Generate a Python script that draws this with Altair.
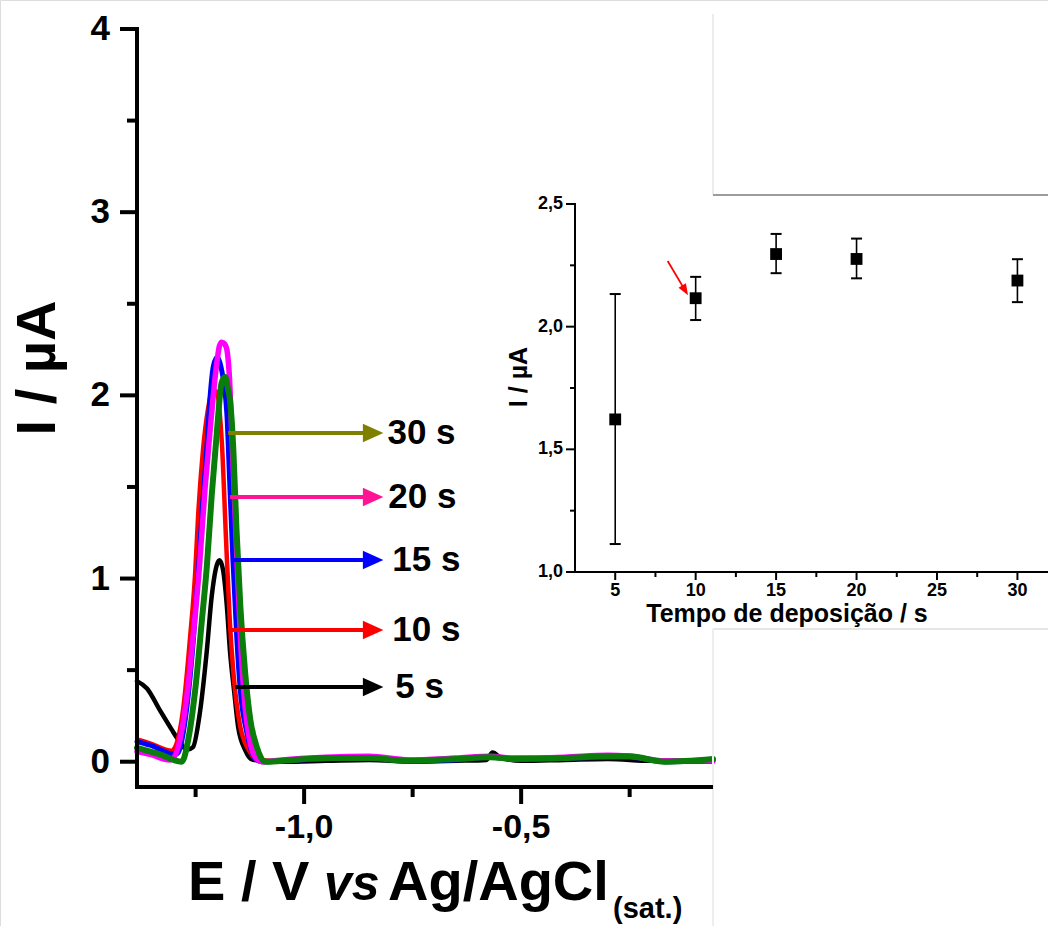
import altair as alt
import pandas as pd

FONT = "Liberation Sans"

# ---------------- main voltammograms: E / V  vs  I / uA ----------------
BASE_E = [-1.05, -0.95, -0.85, -0.76, -0.65, -0.57, -0.52, -0.4, -0.3, -0.25, -0.17, -0.058]

E_5 = [-1.385, -1.362, -1.332, -1.305, -1.290, -1.270, -1.256, -1.240, -1.224, -1.213,
       -1.201, -1.195, -1.187, -1.178, -1.171, -1.161, -1.152, -1.136, -1.118,
       -1.05, -0.95, -0.85, -0.75, -0.65, -0.58, -0.566, -0.545, -0.5, -0.4, -0.3, -0.2, -0.058]
I_5 = [0.44, 0.40, 0.28, 0.175, 0.12, 0.065, 0.08, 0.27, 0.61, 0.90,
       1.075, 1.10, 1.05, 0.85, 0.61, 0.38, 0.19, 0.065, 0.01,
       0.0, 0.005, 0.01, 0.0, 0.005, 0.01, 0.05, 0.02, 0.005, 0.01, 0.015, 0.005, 0.005]

E_10 = [-1.384, -1.355, -1.305, -1.297, -1.278, -1.263, -1.251, -1.244, -1.233, -1.221,
        -1.210, -1.202, -1.189, -1.180, -1.171, -1.163, -1.147, -1.124, -1.109] + BASE_E
I_10 = [0.12, 0.10, 0.06, 0.08, 0.30, 0.67, 1.03, 1.35, 1.70, 1.93,
        2.03, 2.02, 1.72, 1.22, 0.76, 0.49, 0.19, 0.05, 0.01] + \
       [0.005, 0.02, 0.025, 0.01, 0.015, 0.03, 0.02, 0.02, 0.03, 0.03, 0.0, 0.0]

E_15 = [-1.385, -1.355, -1.297, -1.290, -1.270, -1.255, -1.244, -1.234, -1.224, -1.217,
        -1.209, -1.200, -1.191, -1.178, -1.171, -1.164, -1.155, -1.147, -1.132, -1.113, -1.097] + BASE_E
I_15 = [0.11, 0.09, 0.04, 0.05, 0.30, 0.67, 1.03, 1.40, 1.72, 1.98,
        2.16, 2.21, 2.15, 1.90, 1.50, 1.10, 0.67, 0.39, 0.16, 0.02, 0.0] + \
       [0.005, 0.015, 0.02, 0.005, 0.01, 0.025, 0.015, 0.02, 0.025, 0.025, 0.0, 0.005]

E_20 = [-1.385, -1.355, -1.309, -1.301, -1.286, -1.270, -1.255, -1.241, -1.228, -1.217,
        -1.201, -1.195, -1.190, -1.183, -1.178, -1.171, -1.167, -1.159, -1.152, -1.145,
        -1.136, -1.124, -1.111, -1.097] + BASE_E
I_20 = [0.055, 0.04, 0.01, 0.02, 0.12, 0.36, 0.70, 1.07, 1.50, 1.80,
        2.18, 2.27, 2.29, 2.28, 2.25, 2.05, 1.81, 1.35, 0.95, 0.60,
        0.30, 0.10, 0.02, 0.0] + \
       [0.01, 0.025, 0.03, 0.01, 0.02, 0.03, 0.02, 0.025, 0.035, 0.03, 0.005, 0.005]

E_30 = [-1.385, -1.332, -1.282, -1.267, -1.251, -1.236, -1.224, -1.213, -1.201, -1.190,
        -1.182, -1.175, -1.171, -1.163, -1.156, -1.147, -1.136, -1.124, -1.109, -1.090] + BASE_E
I_30 = [0.076, 0.04, 0.0, 0.12, 0.39, 0.76, 1.07, 1.45, 1.80, 2.07,
        2.10, 2.03, 1.98, 1.70, 1.28, 0.85, 0.49, 0.23, 0.08, 0.0] + \
       [0.005, 0.02, 0.02, 0.005, 0.015, 0.025, 0.015, 0.02, 0.03, 0.03, 0.0, 0.015]

CURVES = [("5 s", E_5, I_5, "#000000", 4.5),
          ("10 s", E_10, I_10, "#ff0000", 4.5),
          ("15 s", E_15, I_15, "#0000ff", 5.0),
          ("20 s", E_20, I_20, "#ff00ff", 5.5),
          ("30 s", E_30, I_30, "#0a7d0a", 6.0)]

# arrow annotations
ARROW_LABELS = ["30 s", "20 s", "15 s", "10 s", "5 s"]
ARROW_I = [1.794, 1.445, 1.101, 0.719, 0.408]
ARROW_E0 = [-1.175, -1.171, -1.164, -1.171, -1.159]
ARROW_COLORS = ["#808000", "#ff1493", "#0000ff", "#ff0000", "#000000"]
ARROW_END = -0.864
HEAD_E = -0.841
TEXT_E = [-0.808, -0.806, -0.797, -0.797, -0.790]

# main axis ticks
MAIN_X_MAJOR = [-1.0, -0.5]
MAIN_X_LABELS = ["-1,0", "-0,5"]
MAIN_X_MINOR = [-1.25, -0.75, -0.25]
MAIN_Y_MAJOR = [0, 1, 2, 3, 4]
MAIN_Y_LABELS = ["0", "1", "2", "3", "4"]
MAIN_Y_MINOR = [0.5, 1.5, 2.5, 3.5]

# ---------------- inset: peak current vs deposition time ----------------
T = [5, 10, 15, 20, 30]
C = [1.622, 2.116, 2.296, 2.276, 2.188]
C_LO = [1.114, 2.027, 2.218, 2.197, 2.100]
C_HI = [2.133, 2.203, 2.378, 2.359, 2.275]
INSET_X_MAJOR = [5, 10, 15, 20, 25, 30]
INSET_X_LABELS = ["5", "10", "15", "20", "25", "30"]
INSET_X_MINOR = [7.5, 12.5, 17.5, 22.5, 27.5]
INSET_Y_MAJOR = [1.0, 1.5, 2.0, 2.5]
INSET_Y_LABELS = ["1,0", "1,5", "2,0", "2,5"]
INSET_Y_MINOR = [1.25, 1.75, 2.25]

# ---------------- scales ----------------
xs_main = alt.Scale(domain=[-1.385, -0.058], range=[137, 713], nice=False, zero=False)
ys_main = alt.Scale(domain=[-0.138, 4.0], range=[787, 29], nice=False, zero=False)
xs_in = alt.Scale(domain=[2.5, 31.9], range=[575, 1048], nice=False, zero=False)
ys_in = alt.Scale(domain=[1.0, 2.5], range=[572, 204], nice=False, zero=False)


def X(field, sc):
    return alt.X(field, scale=sc, axis=None)


def Y(field, sc):
    return alt.Y(field, scale=sc, axis=None)


def vticks(vals, sc, y1, y2, w):
    return alt.Chart(pd.DataFrame({"v": vals})).mark_rule(color="black", strokeWidth=w).encode(
        x=X("v:Q", sc), y=alt.value(y1), y2=alt.value(y2))


def hticks(vals, sc, x1, x2, w):
    return alt.Chart(pd.DataFrame({"v": vals})).mark_rule(color="black", strokeWidth=w).encode(
        y=Y("v:Q", sc), x=alt.value(x1), x2=alt.value(x2))


def xlabels(vals, labs, sc, y, size):
    return alt.Chart(pd.DataFrame({"v": vals, "s": labs})).mark_text(
        align="center", baseline="middle", font=FONT, fontSize=size, fontWeight="bold",
        color="black").encode(x=X("v:Q", sc), y=alt.value(y), text="s:N")


def ylabels(vals, labs, sc, x, size):
    return alt.Chart(pd.DataFrame({"v": vals, "s": labs})).mark_text(
        align="right", baseline="middle", font=FONT, fontSize=size, fontWeight="bold",
        color="black").encode(y=Y("v:Q", sc), x=alt.value(x), text="s:N")


def pline(x1, y1, x2, y2, col, w):
    return alt.Chart(pd.DataFrame({"a": [0]})).mark_rule(color=col, strokeWidth=w).encode(
        x=alt.value(x1), x2=alt.value(x2), y=alt.value(y1), y2=alt.value(y2))


def txt(s, x, y, size, angle=0, align="left", baseline="alphabetic", style="normal"):
    return alt.Chart(pd.DataFrame({"s": [s]})).mark_text(
        align=align, baseline=baseline, font=FONT, fontSize=size, fontWeight="bold",
        fontStyle=style, angle=angle, color="black").encode(
        x=alt.value(x), y=alt.value(y), text="s:N")


# ---------------- main layers ----------------
main_layers = []
for name, E, I, col, w in CURVES:
    df = pd.DataFrame({"E": E, "I": I})
    main_layers.append(
        alt.Chart(df).mark_line(color=col, strokeWidth=w, interpolate="monotone",
                                strokeJoin="round", strokeCap="round").encode(
            x=X("E:Q", xs_main), y=Y("I:Q", ys_main))
    )

main_layers += [
    vticks(MAIN_X_MAJOR, xs_main, 787, 804, 4),
    vticks(MAIN_X_MINOR, xs_main, 787, 797, 4),
    hticks(MAIN_Y_MAJOR, ys_main, 120, 137, 4),
    hticks(MAIN_Y_MINOR, ys_main, 127, 137, 4),
    xlabels(MAIN_X_MAJOR, MAIN_X_LABELS, xs_main, 828, 34),
    ylabels(MAIN_Y_MAJOR, MAIN_Y_LABELS, ys_main, 110, 35),
]

arr = pd.DataFrame({"lab": ARROW_LABELS, "I": ARROW_I, "E0": ARROW_E0,
                    "E1": [ARROW_END] * 5, "EH": [HEAD_E] * 5, "ET": TEXT_E})
col_scale = alt.Scale(domain=ARROW_LABELS, range=ARROW_COLORS)
main_layers.append(alt.Chart(arr).mark_rule(strokeWidth=4).encode(
    x=X("E0:Q", xs_main), x2="E1:Q", y=Y("I:Q", ys_main),
    color=alt.Color("lab:N", scale=col_scale, legend=None)))
main_layers.append(alt.Chart(arr).mark_point(shape="M-1,-0.9L1,0L-1,0.9Z", filled=True,
                                             size=420, opacity=1).encode(
    x=X("EH:Q", xs_main), y=Y("I:Q", ys_main),
    color=alt.Color("lab:N", scale=col_scale, legend=None)))
main_layers.append(alt.Chart(arr).mark_text(align="left", baseline="middle", font=FONT,
                                            fontSize=35, fontWeight="bold", color="black").encode(
    x=X("ET:Q", xs_main), y=Y("I:Q", ys_main), text="lab:N"))

main = alt.layer(*main_layers)

# ---------------- inset layers ----------------
ins = pd.DataFrame({"t": T, "c": C, "lo": C_LO, "hi": C_HI})
cap = dict(shape="M-1,0L1,0", filled=False, size=121, strokeWidth=2, color="black", opacity=1)
inset_layers = [
    alt.Chart(ins).mark_rule(color="black", strokeWidth=1.6).encode(
        x=X("t:Q", xs_in), y=Y("lo:Q", ys_in), y2="hi:Q"),
    alt.Chart(ins).mark_point(**cap).encode(x=X("t:Q", xs_in), y=Y("hi:Q", ys_in)),
    alt.Chart(ins).mark_point(**cap).encode(x=X("t:Q", xs_in), y=Y("lo:Q", ys_in)),
    alt.Chart(ins).mark_point(shape="square", filled=True, size=140, color="black",
                              opacity=1).encode(x=X("t:Q", xs_in), y=Y("c:Q", ys_in)),
    vticks(INSET_X_MAJOR, xs_in, 572, 580, 2),
    vticks(INSET_X_MINOR, xs_in, 572, 577, 2),
    hticks(INSET_Y_MAJOR, ys_in, 566, 575, 2),
    hticks(INSET_Y_MINOR, ys_in, 570, 575, 2),
    xlabels(INSET_X_MAJOR, INSET_X_LABELS, xs_in, 591, 18),
    ylabels(INSET_Y_MAJOR, INSET_Y_LABELS, ys_in, 563, 18),
]

red = pd.DataFrame({"t0": [8.26], "c0": [2.268], "t1": [9.26], "c1": [2.157],
                    "th": [9.345], "ch": [2.148]})
inset_layers.append(alt.Chart(red).mark_rule(color="#ff0000", strokeWidth=1.8).encode(
    x=X("t0:Q", xs_in), x2="t1:Q", y=Y("c0:Q", ys_in), y2="c1:Q"))
inset_layers.append(alt.Chart(red).mark_point(shape="M-1,-0.75L1,0L-1,0.75Z", filled=True,
                                              size=130, angle=59, color="#ff0000",
                                              opacity=1).encode(
    x=X("th:Q", xs_in), y=Y("ch:Q", ys_in)))

inset = alt.layer(*inset_layers)

# ---------------- axis lines, titles & frame lines (pixel placed) ----------------
extras = [
    pline(713, 14, 713, 195, "#ececec", 2),
    pline(713, 195, 1048, 195, "#9c9c9c", 2),
    pline(713, 629, 1048, 629, "#e6e6e6", 2),
    pline(713, 629, 713, 926, "#eeeeee", 2),
    pline(137, 27, 137, 789, "black", 4),
    pline(135, 787, 713, 787, "black", 4),
    pline(575, 203, 575, 573, "black", 2),
    pline(574, 572, 1048, 572, "black", 2),
    txt("E / V", 188, 900, 56),
    txt("vs", 324, 900, 50, style="italic"),
    txt("Ag/AgCl", 388, 900, 56),
    txt("(sat.)", 613, 918, 29),
    txt("I / µA", 55, 368, 56, angle=270, align="center"),
    txt("Tempo de deposição / s", 787, 622, 25, align="center"),
    txt("I / µA", 527, 377, 25, angle=270, align="center"),
]

chart = alt.layer(main, inset, *extras).resolve_scale(
    x="independent", y="independent"
).properties(
    width=1048, height=926, padding=0,
    autosize=alt.AutoSizeParams(type="none"),
).configure_view(strokeWidth=0).configure(background="white")

chart.save("out.html", embed_options={"renderer": "svg", "actions": False})
